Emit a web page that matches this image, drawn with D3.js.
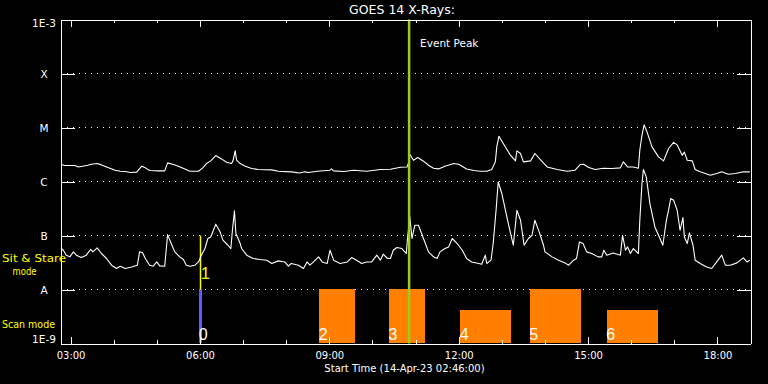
<!DOCTYPE html>
<html><head><meta charset="utf-8">
<script src="https://cdn.jsdelivr.net/npm/d3@7/dist/d3.min.js"></script>
<style>html,body{margin:0;padding:0;background:#000;}svg{display:block;}</style>
</head><body>
<svg id="c" width="768" height="384"></svg>
<script>
// ---------------- data ----------------
const day = "2023-04-14";
const title = "GOES 14 X-Rays:";
const xTitle = "Start Time (14-Apr-23 02:46:00)";
const timeDomain = ["02:46", "18:46"];
const majorTicks = ["03:00", "06:00", "09:00", "12:00", "15:00", "18:00"];
const levelValues = [1e-9, 1e-8, 1e-7, 1e-6, 1e-5, 1e-4, 1e-3];
const levelLabels = ["1E-9", "A", "B", "C", "M", "X", "1E-3"];

// GOES long channel (1-8 A)
const longSeries = [["02:47",2.06e-6],["02:52",1.98e-6],["03:06",1.98e-6],["03:11",1.86e-6],["03:24",2.00e-6],["03:29",2.09e-6],["03:37",2.15e-6],["03:43",2.03e-6],["03:52",1.82e-6],["04:02",1.62e-6],["04:09",1.55e-6],["04:16",1.53e-6],["04:23",1.47e-6],["04:32",1.49e-6],["04:39",1.92e-6],["04:44",1.79e-6],["04:50",1.60e-6],["05:02",1.57e-6],["05:11",1.57e-6],["05:15",2.21e-6],["05:23",2.06e-6],["05:30",1.92e-6],["05:39",1.71e-6],["05:46",1.55e-6],["05:58",1.55e-6],["06:04",1.79e-6],["06:09",2.15e-6],["06:15",2.41e-6],["06:22",3.03e-6],["06:30",2.62e-6],["06:37",2.28e-6],["06:44",2.15e-6],["06:46",2.41e-6],["06:49",3.69e-6],["06:51",2.48e-6],["06:56",2.15e-6],["07:03",1.92e-6],["07:12",1.74e-6],["07:21",1.67e-6],["07:40",1.64e-6],["07:49",1.55e-6],["08:07",1.51e-6],["08:19",1.44e-6],["08:26",1.51e-6],["08:31",1.47e-6],["08:43",1.55e-6],["09:01",1.62e-6],["09:03",1.71e-6],["09:06",1.57e-6],["09:20",1.53e-6],["09:34",1.62e-6],["09:52",1.55e-6],["10:11",1.67e-6],["10:25",1.69e-6],["10:39",1.84e-6],["10:48",1.86e-6],["10:50",2.15e-6],["10:52",3.20e-6],["10:57",2.48e-6],["11:03",2.78e-6],["11:11",2.38e-6],["11:18",2.00e-6],["11:25",1.76e-6],["11:32",1.71e-6],["11:41",1.92e-6],["11:53",2.15e-6],["12:00",2.09e-6],["12:11",1.71e-6],["12:21",1.60e-6],["12:30",1.55e-6],["12:39",1.55e-6],["12:46",1.67e-6],["12:51",2.31e-6],["12:53",4.37e-6],["12:56",6.9e-6],["13:02",5.06e-6],["13:12",3.07e-6],["13:19",2.41e-6],["13:21",3.69e-6],["13:26",3.30e-6],["13:30",2.31e-6],["13:40",2.41e-6],["13:46",3.30e-6],["13:53",2.59e-6],["14:03",1.86e-6],["14:17",1.67e-6],["14:31",1.55e-6],["14:42",1.62e-6],["14:49",2.06e-6],["14:54",2.09e-6],["15:01",1.82e-6],["15:10",1.67e-6],["15:21",1.76e-6],["15:33",1.74e-6],["15:45",1.79e-6],["15:49",2.31e-6],["15:55",1.86e-6],["16:03",1.86e-6],["16:10",1.76e-6],["16:12",3.80e-6],["16:15",7.2e-6],["16:18",1.12e-5],["16:22",8.3e-6],["16:29",4.37e-6],["16:38",2.86e-6],["16:45",2.41e-6],["16:52",4.08e-6],["16:59",5.3e-6],["17:04",4.76e-6],["17:11",3.07e-6],["17:14",3.49e-6],["17:18",2.48e-6],["17:25",2.41e-6],["17:29",1.67e-6],["17:36",1.51e-6],["17:50",1.31e-6],["17:59",1.41e-6],["18:06",1.51e-6],["18:15",1.36e-6],["18:25",1.41e-6],["18:36",1.51e-6],["18:45",1.51e-6]];

// GOES short channel (0.5-4 A)
const shortSeries = [["02:47",5.74e-8],["02:50",5.34e-8],["02:54",4.32e-8],["02:59",4.02e-8],["03:04",4.97e-8],["03:08",4.32e-8],["03:15",3.91e-8],["03:22",4.32e-8],["03:28",5.57e-8],["03:31",4.97e-8],["03:37",5.9e-8],["03:43",4.64e-8],["03:50",3.75e-8],["03:57",2.82e-8],["04:04",2.45e-8],["04:09",2.70e-8],["04:16",2.45e-8],["04:25",2.62e-8],["04:33",2.82e-8],["04:36",4.97e-8],["04:40",4.84e-8],["04:44",3.75e-8],["04:50",2.82e-8],["04:55",2.70e-8],["05:00",3.24e-8],["05:04",2.74e-8],["05:11",2.70e-8],["05:15",1.04e-7],["05:20",7.1e-8],["05:25",4.97e-8],["05:32",4.02e-8],["05:37",3.59e-8],["05:41",2.82e-8],["05:46",2.70e-8],["05:53",2.82e-8],["05:58",3.24e-8],["06:02",4.32e-8],["06:07",5.74e-8],["06:11",8.8e-8],["06:15",9.4e-8],["06:22",1.62e-7],["06:28",1.17e-7],["06:32",8.2e-8],["06:39",6.6e-8],["06:43",5.74e-8],["06:45",1.17e-7],["06:48",2.86e-7],["06:50",1.09e-7],["06:56",7.1e-8],["06:58",5.74e-8],["07:05",4.32e-8],["07:14",3.75e-8],["07:23",3.59e-8],["07:33",3.49e-8],["07:40",3.03e-8],["07:49",3.39e-8],["07:58",3.24e-8],["08:03",2.70e-8],["08:07",3.03e-8],["08:17",2.82e-8],["08:24",2.45e-8],["08:29",3.24e-8],["08:33",2.82e-8],["08:38",3.24e-8],["08:45",4.02e-8],["08:50",3.24e-8],["08:57",3.03e-8],["09:01",5.34e-8],["09:06",3.49e-8],["09:15",3.03e-8],["09:25",3.24e-8],["09:31",3.91e-8],["09:38",3.49e-8],["09:45",3.03e-8],["09:52",3.24e-8],["09:59",3.24e-8],["10:06",4.32e-8],["10:11",3.49e-8],["10:15",4.51e-8],["10:21",3.75e-8],["10:25",3.75e-8],["10:29",5.34e-8],["10:34",6.0e-8],["10:41",5.74e-8],["10:47",4.64e-8],["10:49",9.4e-8],["10:52",2.21e-7],["10:55",8.8e-8],["10:59",1.55e-7],["11:04",1.55e-7],["11:11",8.8e-8],["11:18",4.97e-8],["11:25",4.02e-8],["11:30",3.75e-8],["11:34",4.97e-8],["11:41",5.74e-8],["11:46",6.15e-8],["11:51",8.8e-8],["11:58",7.1e-8],["12:05",5.34e-8],["12:11",3.75e-8],["12:18",3.24e-8],["12:28",3.03e-8],["12:32",2.94e-8],["12:37",4.32e-8],["12:39",3.03e-8],["12:45",3.49e-8],["12:48",7.1e-8],["12:52",2.94e-7],["12:55",9.8e-7],["13:00",6.0e-7],["13:05",2.94e-7],["13:09",1.67e-7],["13:16",6.6e-8],["13:21",2.94e-7],["13:26",1.92e-7],["13:31",6.6e-8],["13:37",8.8e-8],["13:42",1.01e-7],["13:46",1.92e-7],["13:52",1.17e-7],["13:58",6.6e-8],["14:00",4.97e-8],["14:10",4.02e-8],["14:19",3.49e-8],["14:28",3.11e-8],["14:33",2.82e-8],["14:40",3.49e-8],["14:44",3.75e-8],["14:48",7.6e-8],["14:53",7.1e-8],["14:58",4.97e-8],["15:05",4.64e-8],["15:14",4.02e-8],["15:19",4.02e-8],["15:22",5.34e-8],["15:26",4.32e-8],["15:35",4.76e-8],["15:45",4.32e-8],["15:48",1.01e-7],["15:52",5.34e-8],["15:55",6.15e-8],["15:59",4.64e-8],["16:03",5.74e-8],["16:10",4.64e-8],["16:12",1.92e-7],["16:15",9.2e-7],["16:17",1.67e-6],["16:21",1.22e-6],["16:26",3.91e-7],["16:33",1.44e-7],["16:40",8.8e-8],["16:44",6.6e-8],["16:49",1.92e-7],["16:52",2.94e-7],["16:55",4.84e-7],["16:59",4.51e-7],["17:04",2.94e-7],["17:08",1.25e-7],["17:12",2.15e-7],["17:14",9.4e-8],["17:18",7.1e-8],["17:21",1.12e-7],["17:26",6.6e-8],["17:29",3.49e-8],["17:36",3.03e-8],["17:45",2.62e-8],["17:52",2.45e-8],["17:59",3.24e-8],["18:06",4.32e-8],["18:11",2.82e-8],["18:18",2.82e-8],["18:27",3.11e-8],["18:36",3.85e-8],["18:41",3.24e-8],["18:45",3.49e-8]];

const eventPeak = "10:51";
const eventLabel = "Event Peak";

// Sit & Stare observations (drawn between the B and A levels)
const sitLabels = ["1"];
const sitTimes = ["06:00"];

// Scan-mode rasters: label, start, end, bar top (flux units)
const scanLabels = ["0", "", "2", "3", "4", "5", "6"];
const scanStart  = ["05:59", "08:45", "08:46", "10:23", "12:02", "13:39", "15:26"];
const scanEnd    = ["06:03", "09:36", "09:36", "11:13", "13:13", "14:50", "16:37"];
const scanTop    = [1e-8, 4.1e-9, 1e-8, 1e-8, 4.1e-9, 1e-8, 4.1e-9];

// ---------------- drawing ----------------
const parse = s => d3.utcParse("%Y-%m-%d %H:%M")(day + " " + s);
const svg = d3.select("#c");
const FONT = "DejaVu Sans, Liberation Sans, sans-serif";
svg.append("rect").attr("width", 768).attr("height", 384).attr("fill", "#000");

const L = 60.5, R = 750.5, T = 19.5, B = 343.5;
const x = d3.scaleUtc().domain(timeDomain.map(parse)).range([L, R]);
const y = d3.scaleLog().domain([1e-9, 1e-3]).range([B, T]);

// dotted grid lines at class levels
svg.append("g").selectAll("line").data(levelValues.slice(1, -1)).join("line")
  .attr("x1", L).attr("x2", R).attr("y1", d => y(d)).attr("y2", d => y(d))
  .attr("stroke", "#fff").attr("stroke-width", 1).attr("stroke-dasharray", "1,5")
  .attr("shape-rendering", "crispEdges");

// scan mode bars
const scans = scanLabels.map((l, i) => ({label: l, s: parse(scanStart[i]), e: parse(scanEnd[i]), top: scanTop[i]}));
svg.append("g").selectAll("rect").data(scans).join("rect")
  .attr("x", d => Math.round(x(d.s)))
  .attr("width", d => Math.max(2, Math.round(x(d.e)) - Math.round(x(d.s))))
  .attr("y", d => y(d.top) - 0.5)
  .attr("height", d => B - y(d.top))
  .attr("fill", d => d.label === "0" ? "#5c5cff" : "#ff8000")
  .attr("shape-rendering", "crispEdges");

// sit & stare lines
svg.append("g").selectAll("line").data(sitTimes).join("line")
  .attr("x1", d => Math.round(x(parse(d))) + 0.5).attr("x2", d => Math.round(x(parse(d))) + 0.5)
  .attr("y1", y(1e-7)).attr("y2", y(1e-8))
  .attr("stroke", "#ffff00").attr("stroke-width", 1.5);

// curves
const line = d3.line().x(d => x(parse(d[0]))).y(d => y(d[1]));
[longSeries, shortSeries].forEach(s => {
  svg.append("path").datum(s).attr("d", line)
    .attr("fill", "none").attr("stroke", "#fff").attr("stroke-width", 1.1)
    .attr("stroke-linejoin", "round");
});

// event peak line
svg.append("line")
  .attr("x1", x(parse(eventPeak))).attr("x2", x(parse(eventPeak)))
  .attr("y1", T).attr("y2", B)
  .attr("stroke", "#9acd1e").attr("stroke-width", 2.5);
svg.append("text").attr("x", x(parse(eventPeak)) + 11).attr("y", 46.5)
  .attr("fill", "#fff").attr("font-family", FONT).attr("font-size", 10.5)
  .text(eventLabel);

// axes
const fmt = d3.utcFormat("%H:%M");
const major = majorTicks.map(parse);
const minor = x.ticks(d3.utcHour.every(1));
function styleAxis(g) {
  g.selectAll("path").attr("stroke", "#fff").attr("shape-rendering", "crispEdges");
  g.selectAll("line").attr("stroke", "#fff").attr("shape-rendering", "crispEdges");
  g.selectAll("text").attr("fill", "#fff").attr("font-family", FONT).attr("font-size", 10);
}
svg.append("g").attr("transform", `translate(0,${B})`)
  .call(d3.axisBottom(x).tickValues(minor).tickSize(-3.5).tickSizeOuter(0).tickFormat(""))
  .call(styleAxis);
svg.append("g").attr("transform", `translate(0,${B})`)
  .call(d3.axisBottom(x).tickValues(major).tickSize(-7).tickSizeOuter(0).tickPadding(8).tickFormat(fmt))
  .call(styleAxis);
svg.append("g").attr("transform", `translate(0,${T})`)
  .call(d3.axisTop(x).tickValues(minor).tickSize(-3.5).tickSizeOuter(0).tickFormat(""))
  .call(styleAxis);
svg.append("g").attr("transform", `translate(0,${T})`)
  .call(d3.axisTop(x).tickValues(major).tickSize(-7).tickSizeOuter(0).tickFormat(""))
  .call(styleAxis);
const gl = svg.append("g").attr("transform", `translate(${L},0)`)
  .call(d3.axisLeft(y).tickValues(levelValues).tickSize(-14).tickSizeOuter(0)
    .tickFormat((d, i) => levelLabels[i]))
  .call(styleAxis);
gl.selectAll(".tick text")
  .attr("x", 44 - L).attr("text-anchor", "middle").attr("font-size", 10.5)
  .attr("dy", (d, i) => i === 0 ? "-0.1em" : (i === levelValues.length - 1 ? "0.68em" : "0.35em"));
svg.append("g").attr("transform", `translate(${R},0)`)
  .call(d3.axisRight(y).tickValues(levelValues).tickSize(-14).tickSizeOuter(0).tickFormat(""))
  .call(styleAxis);

// titles
svg.append("text").attr("x", 402).attr("y", 14).attr("text-anchor", "middle")
  .attr("fill", "#fff").attr("font-family", FONT).attr("font-size", 12.5).text(title);
svg.append("text").attr("x", 404.5).attr("y", 371.5).attr("text-anchor", "middle")
  .attr("fill", "#fff").attr("font-family", FONT).attr("font-size", 10).text(xTitle);

// mode labels
const yellow = "#ffff00";
svg.append("text").attr("x", 2).attr("y", 261.5).attr("fill", yellow)
  .attr("font-family", FONT).attr("font-size", 11).attr("textLength", 64).attr("lengthAdjust", "spacingAndGlyphs").text("Sit & Stare");
svg.append("text").attr("x", 12.5).attr("y", 274.5).attr("fill", yellow)
  .attr("font-family", FONT).attr("font-size", 11).attr("textLength", 24).attr("lengthAdjust", "spacingAndGlyphs").text("mode");
svg.append("text").attr("x", 2).attr("y", 327.5).attr("fill", yellow)
  .attr("font-family", FONT).attr("font-size", 11).attr("textLength", 53).attr("lengthAdjust", "spacingAndGlyphs").text("Scan mode");

// labels for observations
svg.append("g").selectAll("text").data(sitTimes).join("text")
  .attr("x", d => x(parse(d)) + 1).attr("y", 278.5)
  .attr("fill", yellow).attr("font-family", "Liberation Sans, sans-serif").attr("font-size", 16)
  .text((d, i) => sitLabels[i]);
svg.append("g").selectAll("text").data(scans.filter(d => d.label !== "")).join("text")
  .attr("x", d => x(d.s) - 0.5).attr("y", 340)
  .attr("fill", "#fff").attr("font-family", "Liberation Sans, sans-serif").attr("font-size", 16)
  .text(d => d.label);
</script>
</body></html>
